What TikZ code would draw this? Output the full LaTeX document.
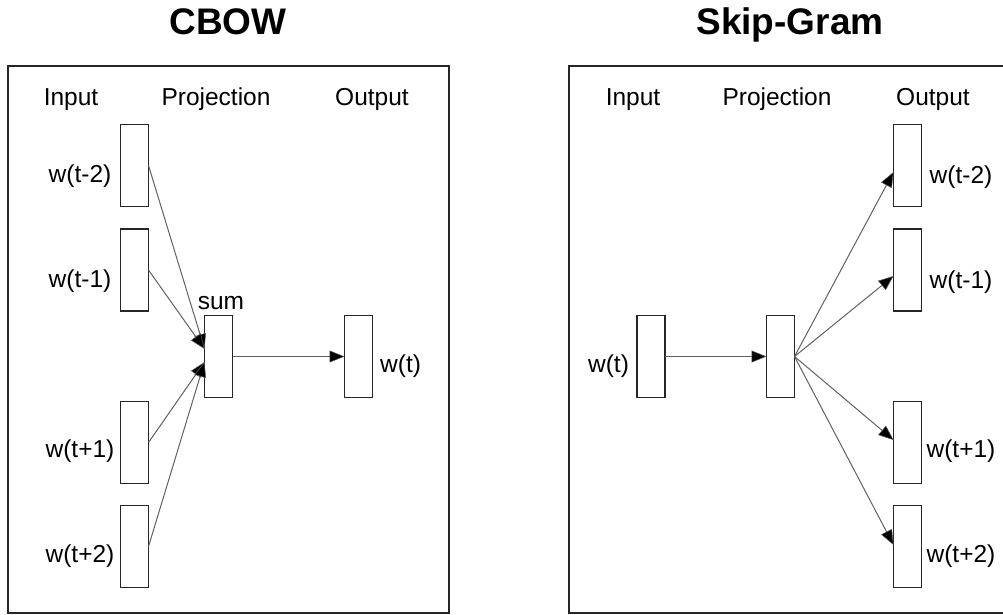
\documentclass[tikz,border=0pt]{standalone}
\usepackage{fontspec}
\setmainfont{Liberation Sans}
\usetikzlibrary{arrows.meta,calc}
\begin{document}
\begin{tikzpicture}[x=1pt,y=-1pt]
\tikzset{
  vec/.style={draw=black!85, line width=1.4pt, minimum width=28pt, minimum height=82pt, inner sep=0pt, outer sep=0pt},
  lbl/.style={font=\fontsize{24.5}{29}\selectfont, inner sep=0pt},
  ttl/.style={font=\fontsize{37}{44}\selectfont\bfseries, inner sep=0pt},
  tip/.tip={Triangle[length=15pt,width=12pt,fill=black,line width=0.5pt]},
  conn/.style={draw=black!62, line width=1pt, -tip},
  frame/.style={draw=black!85, line width=1.7pt}
}
\useasboundingbox (0,0) rectangle (1003,615);
\clip (0,0) rectangle (1003,615);

% panel frames
\draw[frame] (8,66) rectangle (449,613);
\draw[frame] (1020,66) -- (569,66) -- (569,613) -- (1020,613);

% titles
\node[ttl, anchor=base] (tcbow) at (228,35) {CBOW};
\node[ttl, anchor=base] (tskip) at (790,35) {Skip-Gram};

% column headings
\node[lbl, anchor=base] (hin1) at (71,106) {Input};
\node[lbl, anchor=base] (hpr1) at (216,106) {Projection};
\node[lbl, anchor=base] (hout1) at (372,106) {Output};
\node[lbl, anchor=base] (hin2) at (633,106) {Input};
\node[lbl, anchor=base] (hpr2) at (777,106) {Projection};
\node[lbl, anchor=base] (hout2) at (933,106) {Output};

% CBOW: context vectors
\node[vec] (c1) at (134.5,165.5) {};
\node[vec] (c2) at (134.5,270) {};
\node[vec] (c3) at (134.5,442.5) {};
\node[vec] (c4) at (134.5,546.5) {};
\node[lbl, anchor=base] (lc1) at (80,182) {w(t-2)};
\node[lbl, anchor=base] (lc2) at (80,287) {w(t-1)};
\node[lbl, anchor=base] (lc3) at (80,457) {w(t+1)};
\node[lbl, anchor=base] (lc4) at (80,562) {w(t+2)};

% CBOW: projection and output
\node[vec] (sum) at (218.5,356.5) {};
\node[lbl, anchor=base] (lsum) at (221,309) {sum};
\node[vec] (cout) at (358.5,356.5) {};
\node[lbl, anchor=base west] (lcout) at (380,372) {w(t)};

\draw[conn] (c1.east) -- ($(sum.west)+(0,-7.5)$);
\draw[conn] (c2.east) -- ($(sum.west)+(0,-7.5)$);
\draw[conn] (c3.east) -- ($(sum.west)+(0,5.5)$);
\draw[conn] (c4.east) -- ($(sum.west)+(0,5.5)$);
\draw[conn] (sum.east) -- (cout.west);

% Skip-Gram: input and projection
\node[vec] (sin) at (651,356.5) {};
\node[lbl, anchor=base] (lsin) at (608.5,372) {w(t)};
\node[vec] (proj) at (780.5,356.5) {};
\draw[conn] (sin.east) -- (proj.west);

% Skip-Gram: context outputs
\node[vec] (s1) at (907.5,165.5) {};
\node[vec] (s2) at (907.5,270) {};
\node[vec] (s3) at (907.5,442.5) {};
\node[vec] (s4) at (907.5,546.5) {};
\node[lbl, anchor=base] (ls1) at (961,183) {w(t-2)};
\node[lbl, anchor=base] (ls2) at (961,288) {w(t-1)};
\node[lbl, anchor=base] (ls3) at (961,457) {w(t+1)};
\node[lbl, anchor=base] (ls4) at (961,562) {w(t+2)};

\draw[conn] (proj.east) -- ($(s1.west)+(0,6.5)$);
\draw[conn] (proj.east) -- ($(s2.west)+(0,6)$);
\draw[conn] (proj.east) -- ($(s3.west)+(0,-2.5)$);
\draw[conn] (proj.east) -- ($(s4.west)+(0,-1.5)$);
\end{tikzpicture}
\end{document}
